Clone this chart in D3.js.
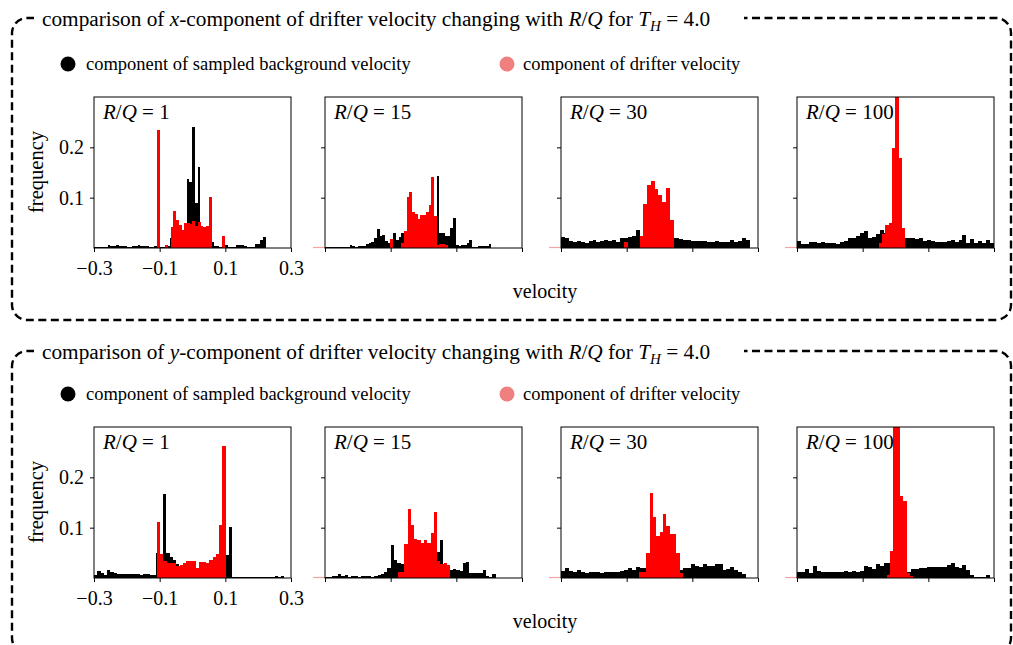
<!DOCTYPE html>
<html>
<head>
<meta charset="utf-8">
<script src="https://cdn.jsdelivr.net/npm/d3@7"></script>
<style>
  body { margin: 0; background: #fff; }
  svg { display: block; font-family: "Liberation Serif", "Times New Roman", serif; }
</style>
</head>
<body>
<div id="chart"></div>
<script>
// R/Q values, one panel each
const ratios = [1, 15, 30, 100];
const xTicks = [-0.3, -0.1, 0.1, 0.3];
const yTicks = [0.1, 0.2];
const xDomain = [-0.3, 0.3];
const yDomain = [0, 0.3];
const legendLabels = ["component of sampled background velocity", "component of drifter velocity"];

// histograms: left edge of first bin, bin width, frequency per bin
// x-component, sampled background velocity
const bgX1 = { start: -0.3, width: 0.0083, values: [
  0.002,0.002,0.002,0.002,0.002,0.005,0.003,0.003,0.006,0.004,0.003,0.003,0.002,0.002,0.003,0.003,0.005,0.003,0.004,0.004,0.002,0.002,0.003,
  0.003,0.002,0.002,0.004,0.003,0.02,0.025,0.03,0.03,0.03,0.035,
  0.137,0.132,0.24,0.09,0.16,0.04,0.035,0.03,0.03,0.011,
  0.003,0.003,0.001,0.002,0.005,0.002,0.002,0.002,0.006,0.006,0.006,0.003,0.002,0.002,0.002,0.008,0.008,0.015,0.022] };
const bgX15 = { start: -0.3, width: 0.0083, values: [
  0.001,0.001,0.002,0.002,0.002,0.002,0.002,0.001,0.002,0.006,0.003,0.002,0.003,0.003,0.003,0.007,0.01,0.012,0.02,0.038,0.023,0.025,0.013,0.01,
  0.012,0.03,0.015,0.022,0.03,0.02,0.02,0.02,0.02,0.02,0.02,0.02,0.02,0.02,0.02,0.02,0.02,
  0.143,0.03,0.03,0.023,0.023,0.04,0.06,
  0.005,0.003,0.006,0.006,0.01,0.015,0.002,0.002,0.003,0.003,0.003,0.003,0.008] };
const bgX30 = { start: -0.3, width: 0.012, values: [
  0.021,0.019,0.013,0.012,0.013,0.012,0.01,0.014,0.016,0.011,0.013,0.015,0.014,0.015,0.012,0.02,0.019,0.021,0.023,0.036,
  0.02,0.02,0.02,0.02,0.02,0.02,0.02,0.02,0.02,0.02,
  0.018,0.016,0.015,0.014,0.013,0.013,0.013,0.012,0.012,0.013,0.012,0.012,0.012,0.015,0.012,0.013,0.02,0.015] };
const bgX100 = { start: -0.3, width: 0.012, values: [
  0.013,0.008,0.008,0.012,0.012,0.01,0.011,0.01,0.009,0.01,0.008,0.012,0.014,0.02,0.019,0.024,0.03,0.034,0.02,0.021,0.028,0.036,
  0.03,0.03,0.03,0.03,0.03,
  0.02,0.019,0.019,0.017,0.019,0.013,0.015,0.013,0.012,0.012,0.012,0.013,0.015,0.012,0.015,0.026,0.01,0.017,0.01,0.013,0.01,0.015,0.01] };

// x-component, drifter velocity
const drX1 = { start: -0.108, width: 0.0083, values: [
  0.234,0,0,0.005,0,0.041,0.073,0.056,0.046,0.036,0.05,0.05,0.048,0.053,0.044,0.051,0.044,0.041,0.043,0.102,0,0,0,0,0.023] };
const drX15 = { start: -0.1008, width: 0.0083, values: [
  0.018,0,0,0,0.01,0.033,0.101,0.112,0.072,0.068,0.058,0.066,0.066,0.072,0.085,0.142,0.063,0.005,0.008,0.008,0.006] };
const drX30 = { start: -0.1067, width: 0.0115, values: [
  0.011,0,0,0,0.023,0.087,0.125,0.133,0.117,0.106,0.092,0.119,0.056] };
const drX100 = { start: -0.0515, width: 0.0102, values: [
  0.01,0.028,0.046,0.05,0.198,0.42,0.178,0.04] };

// y-component, sampled background velocity
const bgY1 = { start: -0.3, width: 0.01, values: [
  0.005,0.013,0.009,0.006,0.015,0.011,0.01,0.008,0.008,0.008,0.008,0.008,0.008,0.008,0.006,0.007,0.008,0.006,0.006,
  0.05,0.04,0.167,0.05,0.042,0.035,0.027,
  0.015,0.015,0.015,0.015,0.015,0.015,0.015,0.015,0.015,0.015,0.015,0.015,0.015,
  0.03,0.045,0.101,
  0.002,0.002,0.002,0.002,0.002,0.002,0.002,0.002,0.002,0.002,0.002,0.002,0.002,0.004,0.002,0.004] };
const bgY15 = { start: -0.3, width: 0.01, values: [
  0.001,0.002,0.003,0.004,0.007,0.003,0.005,0.002,0.003,0.003,0.002,0.003,0.003,0.003,0.002,0.003,0.005,0.007,0.012,0.02,0.065,0.035,0.03,0.028,0.02,
  0.02,0.02,0.02,0.02,0.02,0.02,0.02,0.02,0.02,
  0.051,0.075,0.024,0.025,0.015,0.018,0.016,0.013,0.029,0.031,0.01,0.01,0.01,0.01,0.015,0.003,0.002,0.008] };
const bgY30 = { start: -0.3, width: 0.012, values: [
  0.013,0.019,0.014,0.011,0.015,0.012,0.01,0.012,0.011,0.012,0.01,0.012,0.011,0.012,0.012,0.014,0.015,0.02,0.015,0.022,
  0.02,0.02,0.02,0.02,0.02,0.02,0.02,0.02,0.02,0.02,
  0.015,0.02,0.019,0.027,0.024,0.022,0.027,0.024,0.024,0.027,0.027,0.015,0.018,0.021,0.015,0.011,0.007] };
const bgY100 = { start: -0.3, width: 0.012, values: [
  0.012,0.011,0.018,0.01,0.023,0.014,0.012,0.012,0.012,0.011,0.012,0.011,0.014,0.012,0.013,0.012,0.013,0.023,0.021,0.017,0.027,0.024,0.03,0.03,
  0.03,0.03,0.03,
  0.01,0.011,0.017,0.018,0.019,0.02,0.022,0.022,0.022,0.021,0.022,0.025,0.03,0.022,0.019,0.026,0.015,0.005,0.002,0.002,0.002,0.006] };

// y-component, drifter velocity
const drY1 = { start: -0.109, width: 0.01, values: [
  0.111,0.047,0.033,0.029,0.029,0.029,0.023,0.025,0.03,0.033,0.033,0.033,0.02,0.031,0.031,0.03,0.036,0.041,0.048,0.105,0.262] };
const drY15 = { start: -0.0785, width: 0.01, values: [
  0.012,0.012,0.067,0.138,0.105,0.077,0.075,0.069,0.075,0.069,0.09,0.131,0.033,0.027,0.03,0.025] };
const drY30 = { start: -0.061, width: 0.0102, values: [
  0.011,0.011,0.05,0.168,0.122,0.084,0.092,0.128,0.104,0.088,0.088,0.049,0.009] };
const drY100 = { start: -0.027, width: 0.0102, values: [
  0.005,0.053,0.4,0.35,0.162,0.153,0.009,0.003] };

const rows = [
  { comp: "x", offset: 0, frameOffset: 0, bg: [bgX1, bgX15, bgX30, bgX100], dr: [drX1, drX15, drX30, drX100] },
  { comp: "y", offset: 330, frameOffset: 333, bg: [bgY1, bgY15, bgY30, bgY100], dr: [drY1, drY15, drY30, drY100] },
];

// layout
const width = 1013, height = 645;
const panelX = [94, 325, 561, 797];
const panelW = 197, panelH = 151, panelTop = 97;
const bgColor = "#000000", drColor = "#ff0000", legendPink = "#f08080";

const svg = d3.select("#chart").append("svg")
  .attr("width", width)
  .attr("height", height);

const defs = svg.append("defs");

const x = d3.scaleLinear().domain(xDomain).range([0, panelW]);
const y = d3.scaleLinear().domain(yDomain).range([panelH, 0]);
const fmt = d3.format(".1f");

function bins(h) {
  return h.values.map((v, i) => ({ x0: h.start + i * h.width, x1: h.start + (i + 1) * h.width, v }))
    .filter(d => d.v > 0);
}

function drawBars(g, h, color) {
  g.selectAll(null)
    .data(bins(h))
    .enter()
    .append("rect")
    .attr("x", d => x(d.x0))
    .attr("width", d => x(d.x1) - x(d.x0))
    .attr("y", d => y(d.v))
    .attr("height", d => panelH - y(d.v))
    .attr("fill", color)
    .attr("shape-rendering", "crispEdges");
}

function ratioLabel(text, value) {
  text.append("tspan").attr("font-style", "italic").text("R");
  text.append("tspan").text("/");
  text.append("tspan").attr("font-style", "italic").text("Q");
  text.append("tspan").text(" = " + value);
}

rows.forEach((row, r) => {
  const oy = row.offset;
  const fy = row.frameOffset;

  // dashed frame
  svg.append("rect")
    .attr("x", 12)
    .attr("y", 18 + fy)
    .attr("width", 999)
    .attr("height", 302)
    .attr("rx", 15)
    .attr("fill", "none")
    .attr("stroke", "#000")
    .attr("stroke-width", 2.4)
    .attr("stroke-dasharray", "8 4.5");

  // gap in the frame for the title
  svg.append("rect")
    .attr("x", 34)
    .attr("y", 8 + fy)
    .attr("width", 710)
    .attr("height", 22)
    .attr("fill", "#fff");

  const title = svg.append("text")
    .attr("x", 42)
    .attr("y", 26 + fy)
    .attr("font-size", 21.3)
    .attr("fill", "#000");
  title.append("tspan").text("comparison of ");
  title.append("tspan").attr("font-style", "italic").text(row.comp);
  title.append("tspan").text("-component of drifter velocity changing with ");
  title.append("tspan").attr("font-style", "italic").text("R");
  title.append("tspan").text("/");
  title.append("tspan").attr("font-style", "italic").text("Q");
  title.append("tspan").text(" for ");
  title.append("tspan").attr("font-style", "italic").text("T");
  title.append("tspan").attr("font-style", "italic").attr("font-size", 15).attr("dy", 5).text("H");
  title.append("tspan").attr("dy", -5).text(" = 4.0");

  // legend
  const legend = svg.append("g").attr("transform", `translate(0, ${64 + oy})`);
  const legendItems = [
    { label: legendLabels[0], color: bgColor, cx: 68, tx: 86 },
    { label: legendLabels[1], color: legendPink, cx: 507, tx: 523 },
  ];
  legendItems.forEach(d => {
    legend.append("circle").attr("cx", d.cx).attr("cy", 0).attr("r", 7.5).attr("fill", d.color);
    legend.append("text")
      .attr("x", d.tx)
      .attr("y", 6)
      .attr("font-size", 18.5)
      .attr("fill", "#000")
      .text(d.label);
  });

  ratios.forEach((ratio, p) => {
    const g = svg.append("g").attr("transform", `translate(${panelX[p]}, ${panelTop + oy})`);
    const clipId = `clip-${r}-${p}`;
    defs.append("clipPath").attr("id", clipId)
      .append("rect").attr("width", panelW).attr("height", panelH);

    // faint red stub left of the axes at zero
    if (p > 0) {
      g.append("line")
        .attr("x1", -12).attr("x2", 0)
        .attr("y1", panelH - 0.5).attr("y2", panelH - 0.5)
        .attr("stroke", "#f5a3a3")
        .attr("stroke-width", 1.2);
    }

    const bars = g.append("g").attr("clip-path", `url(#${clipId})`);
    drawBars(bars, row.bg[p], bgColor);
    drawBars(bars, row.dr[p], drColor);

    // axes
    const xAxis = d3.axisBottom(x).tickValues(xTicks).tickSize(4).tickPadding(9)
      .tickFormat(p === 0 ? fmt : "");
    const yAxis = d3.axisLeft(y).tickValues(yTicks).tickSize(4).tickPadding(6)
      .tickFormat(p === 0 ? fmt : "");

    const gx = g.append("g").attr("transform", `translate(0, ${panelH})`).call(xAxis);
    const gy = g.append("g").call(yAxis);
    [gx, gy].forEach(a => {
      a.select(".domain").remove();
      a.attr("font-family", null).attr("font-size", 20);
      a.selectAll("text").attr("fill", "#000");
    });

    g.append("rect")
      .attr("width", panelW)
      .attr("height", panelH)
      .attr("fill", "none")
      .attr("stroke", "#000")
      .attr("stroke-width", 1);

    const label = g.append("text")
      .attr("x", 9)
      .attr("y", 22)
      .attr("font-size", 21)
      .attr("fill", "#000");
    ratioLabel(label, ratio);
  });

  // axis titles
  svg.append("text")
    .attr("transform", `translate(43, ${172 + oy}) rotate(-90)`)
    .attr("text-anchor", "middle")
    .attr("font-size", 20.5)
    .text("frequency");

  svg.append("text")
    .attr("x", 545)
    .attr("y", 298 + oy)
    .attr("text-anchor", "middle")
    .attr("font-size", 20)
    .text("velocity");
});
</script>
</body>
</html>
